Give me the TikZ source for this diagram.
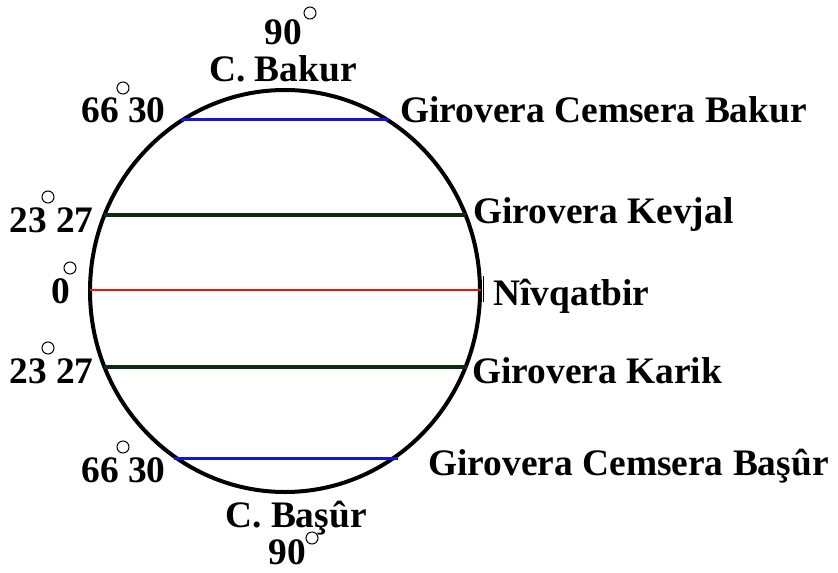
\documentclass[tikz,border=0pt]{standalone}
\usepackage{fontspec}
\setmainfont{Liberation Serif}
\usetikzlibrary{shapes.geometric}
\definecolor{darkgreen}{RGB}{12,42,20}
\definecolor{tropblue}{RGB}{20,20,225}
\definecolor{eqred}{RGB}{235,20,20}
\begin{document}
\begin{tikzpicture}[x=0.5pt,y=-0.5pt,
  lbl/.style={inner sep=0pt,font=\fontsize{18.7}{22}\selectfont\bfseries},
  deg/.style={line width=0.5pt},
  polar/.style={tropblue,line width=1.5pt},
  trop/.style={darkgreen,line width=2pt},
  equ/.style={eqred,line width=1.2pt}]
\useasboundingbox (0,0) rectangle (838,572);
% globe
\node[ellipse,draw,line width=2pt,minimum width=195pt,minimum height=201pt,inner sep=0pt] (globe) at (285,291) {};
% line end points
\coordinate (pnL) at (181,120); \coordinate (pnR) at (389,120);
\coordinate (cnL) at (104,215); \coordinate (cnR) at (466,215);
\coordinate (eqL) at (90,290);  \coordinate (eqR) at (481,290);
\coordinate (csL) at (104,367); \coordinate (csR) at (467,367);
\coordinate (psL) at (174,458); \coordinate (psR) at (398,458);
\draw[polar] (pnL) -- (pnR);
\draw[trop] (cnL) -- (cnR);
\draw[equ] (eqL) -- (eqR);
\draw[trop] (csL) -- (csR);
\draw[polar] (psL) -- (psR);
\coordinate (tickT) at (483,276); \coordinate (tickB) at (483,302);
\draw[line width=0.5pt] (tickT) -- (tickB);
% labels
\node[lbl,anchor=base] (n90) at (283,45) {90};
\node[lbl,anchor=base] (cb) at (283,82) {C. Bakur};
\node[lbl,anchor=base west] (l66a) at (81,123) {66 30};
\node[lbl,anchor=base west] (gcb) at (400,123) {Girovera Cemsera Bakur};
\node[lbl,anchor=base west] (l23a) at (9,232) {23 27};
\node[lbl,anchor=base west] (gk) at (473,223) {Girovera Kevjal};
\node[lbl,anchor=base west] (l0) at (51,303) {0};
\node[lbl,anchor=base west] (niv) at (493,305) {Nîvqatbir};
\node[lbl,anchor=base west] (l23b) at (9,383) {23 27};
\node[lbl,anchor=base west] (gka) at (472,383) {Girovera Karik};
\node[lbl,anchor=base west] (l66b) at (81,482) {66 30};
\node[lbl,anchor=base west] (gcs) at (428,475) {Girovera Cemsera Başûr};
\node[lbl,anchor=base] (cs) at (296,527) {C. Başûr};
\node[lbl,anchor=base] (s90) at (287,564) {90};
% degree marks
\draw[deg] (310,13) circle (3pt);
\draw[deg] (123,88) circle (3pt);
\draw[deg] (48,197) circle (3pt);
\draw[deg] (70,268) circle (3pt);
\draw[deg] (48,348) circle (3pt);
\draw[deg] (123,447) circle (3pt);
\draw[deg] (312,538) circle (3pt);
\end{tikzpicture}
\end{document}
